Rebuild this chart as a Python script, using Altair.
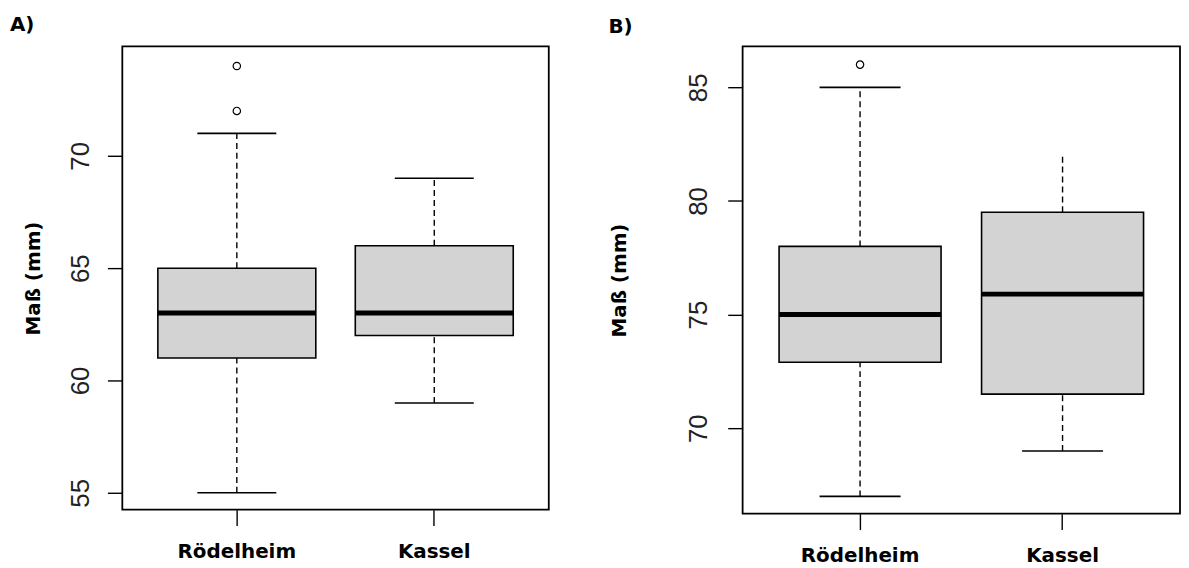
import altair as alt
import pandas as pd

groups = ["Rödelheim", "Kassel"]

# Panel A
a_low = [55, 59]
a_q1 = [61, 62]
a_med = [63, 63]
a_q3 = [65, 66]
a_high = [71, 69]
a_high_cap = [True, True]
a_out_group = ["Rödelheim", "Rödelheim"]
a_out_value = [72, 74]
a_ticks = [55, 60, 65, 70]
a_domain = [54.25, 74.87]

# Panel B
b_low = [67, 69]
b_q1 = [72.9, 71.5]
b_med = [75, 75.9]
b_q3 = [78, 79.5]
b_high = [85, 82]
b_high_cap = [True, False]
b_out_group = ["Rödelheim"]
b_out_value = [86]
b_ticks = [70, 75, 80, 85]
b_domain = [66.24, 86.8]

Y_TITLE = "Maß (mm)"


def panel(label, low, q1, med, q3, high, high_cap, out_g, out_v, ticks, domain,
          width, height, label_pad, title_pad, title_dx, title_offset):
    df = pd.DataFrame(dict(group=groups, low=low, q1=q1, med=med, q3=q3,
                           high=high, cap=high_cap))
    outdf = pd.DataFrame(dict(group=out_g, value=out_v))
    step = width / 2.16

    xenc = alt.X(
        "group:N", sort=groups, title=None,
        scale=alt.Scale(paddingInner=0.2, paddingOuter=0.18),
        axis=alt.Axis(labelFont="DejaVu Sans", labelFontWeight="bold",
                      labelFontSize=20, labelColor="black", labelAngle=0,
                      tickSize=16, tickColor="black", tickWidth=1.4,
                      labelPadding=16, domain=False, grid=False),
    )
    yscale = alt.Scale(domain=domain, nice=False, zero=False)
    yaxis = alt.Axis(values=ticks, labelFont="Liberation Sans", labelFontSize=26,
                     labelColor="#222222", labelAngle=-90, labelAlign="center",
                     labelBaseline="bottom", tickSize=15, tickColor="black",
                     tickWidth=1.4, labelPadding=label_pad, domain=False,
                     grid=False, titleFont="DejaVu Sans", titleFontWeight="bold",
                     titleFontSize=20, titleColor="black", titlePadding=title_pad)

    def Y(field):
        return alt.Y(field, scale=yscale, axis=yaxis, title=Y_TITLE)

    base = alt.Chart(df)
    whisk_up = base.mark_rule(strokeDash=[6, 4], color="black", strokeWidth=1.4).encode(
        x=xenc, y=Y("q3:Q"), y2="high:Q")
    whisk_lo = base.mark_rule(strokeDash=[6, 4], color="black", strokeWidth=1.4).encode(
        x=xenc, y=Y("low:Q"), y2="q1:Q")
    box = base.mark_bar(fill="#d3d3d3", stroke="black", strokeWidth=1.6, opacity=1).encode(
        x=xenc, y=Y("q1:Q"), y2="q3:Q")
    median = base.mark_tick(orient="horizontal", size=0.8 * step, thickness=5,
                            color="black", opacity=1).encode(x=xenc, y=Y("med:Q"))
    cap_lo = base.mark_tick(orient="horizontal", size=0.4 * step, thickness=1.6,
                            color="black", opacity=1).encode(x=xenc, y=Y("low:Q"))
    cap_hi = base.transform_filter("datum.cap").mark_tick(
        orient="horizontal", size=0.4 * step, thickness=1.6, color="black", opacity=1
    ).encode(x=xenc, y=Y("high:Q"))
    outl = alt.Chart(outdf).mark_point(shape="circle", filled=False, size=55,
                                       color="black", strokeWidth=1.2, opacity=1).encode(
        x=xenc, y=Y("value:Q"))

    return alt.layer(whisk_up, whisk_lo, box, median, cap_lo, cap_hi, outl).properties(
        width=width, height=height,
        title=alt.TitleParams(label, anchor="start", frame="group", dx=title_dx,
                              font="DejaVu Sans", fontWeight="bold", fontSize=20,
                              color="black", offset=title_offset),
    )


pa = panel("A)", a_low, a_q1, a_med, a_q3, a_high, a_high_cap, a_out_group,
           a_out_value, a_ticks, a_domain, 429, 466, 14.5, 23.5, -113, 12)
pb = panel("B)", b_low, b_q1, b_med, b_q3, b_high, b_high_cap, b_out_group,
           b_out_value, b_ticks, b_domain, 440, 470, 16, 57, -135, 10)

chart = alt.hconcat(pa, pb, spacing=58).properties(
    padding={"left": 1, "top": 4, "right": 0, "bottom": 0}
).configure(background="white").configure_view(stroke="black", strokeWidth=1.8)

chart.save("out.html", embed_options={"renderer": "svg", "actions": False})
